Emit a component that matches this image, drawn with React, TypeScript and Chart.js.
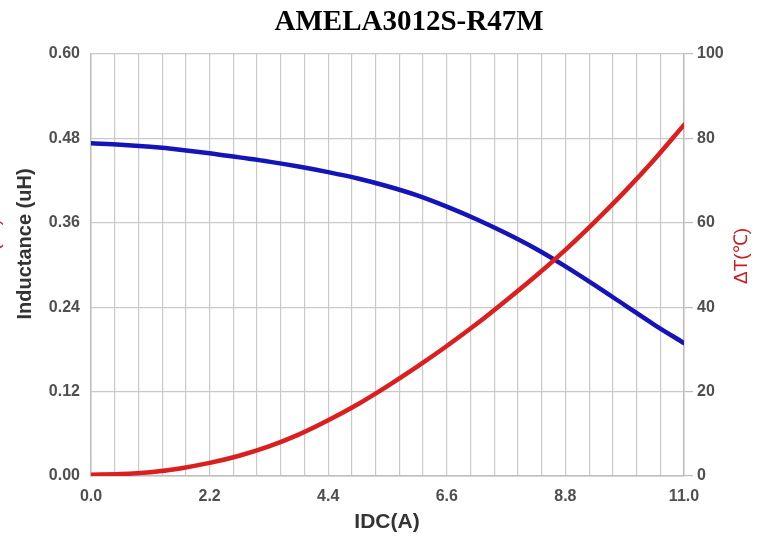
import React, { useEffect, useRef } from "react";
import { Chart, registerables } from "chart.js";

Chart.register(...registerables);

const TITLE = "AMELA3012S-R47M";
const X_TITLE = "IDC(A)";
const Y_LEFT_TITLE = "Inductance (uH)";
const Y_RIGHT_TITLE = "ΔT(℃)";

const currentA = [0, 0.55, 1.1, 1.65, 2.2, 2.75, 3.3, 3.85, 4.4, 4.95, 5.5, 6.05, 6.6, 7.15, 7.7, 8.25, 8.8, 9.35, 9.9, 10.45, 11];
const inductanceUH = [0.473, 0.471, 0.468, 0.464, 0.459, 0.453, 0.447, 0.44, 0.432, 0.423, 0.412, 0.399, 0.383, 0.365, 0.345, 0.323, 0.298, 0.271, 0.243, 0.215, 0.189];
const deltaT = [0.3, 0.45, 0.9, 1.8, 3.1, 4.8, 7.0, 9.8, 13.2, 17.0, 21.3, 25.9, 30.8, 36.0, 41.6, 47.4, 53.6, 60.3, 67.4, 75.0, 83.2];

const xTickCount = 26;
const xTickStep = 0.44;
const leftTicks = [0, 0.12, 0.24, 0.36, 0.48, 0.6];
const rightTicks = [0, 20, 40, 60, 80, 100];

const GRID = "#c9c9c9";
const TICK_COLOR = "#4f4f4f";
const BLUE = "#1414b8";
const RED = "#db1e1e";

const titlesPlugin = {
  id: "customTitles",
  afterDraw(chart: any) {
    const ctx = chart.ctx;
    ctx.save();
    ctx.fillStyle = "#000";
    ctx.font = "bold 29px 'Liberation Serif'";
    ctx.textAlign = "center";
    ctx.textBaseline = "middle";
    ctx.fillText(TITLE, 409, 23);

    ctx.fillStyle = "#333";
    ctx.font = "bold 21px 'Liberation Sans'";
    ctx.fillText(X_TITLE, 387, 522);

    ctx.save();
    ctx.translate(25, 244);
    ctx.rotate(-Math.PI / 2);
    ctx.fillStyle = "#333";
    ctx.font = "bold 20px 'Liberation Sans'";
    ctx.fillText(Y_LEFT_TITLE, 0, 0);
    ctx.restore();

    ctx.save();
    ctx.translate(742, 256);
    ctx.rotate(-Math.PI / 2);
    ctx.fillStyle = "#c42222";
    ctx.font = "19px 'Liberation Sans'";
    ctx.fillText(Y_RIGHT_TITLE, 0, 0);
    ctx.restore();

    ctx.save();
    ctx.translate(-6, 247);
    ctx.rotate(-Math.PI / 2);
    ctx.fillStyle = "#c42222";
    ctx.font = "19px 'Liberation Sans'";
    ctx.fillText(Y_RIGHT_TITLE, 0, 0);
    ctx.restore();

    ctx.restore();
  },
};

export default function App() {
  const canvasRef = useRef<HTMLCanvasElement | null>(null);

  useEffect(() => {
    if (!canvasRef.current) return;
    const chart = new Chart(canvasRef.current, {
      type: "line",
      data: {
        datasets: [
          {
            label: "ΔT",
            data: currentA.map((x, i) => ({ x, y: deltaT[i] })),
            borderColor: RED,
            borderWidth: 4.5,
            pointRadius: 0,
            cubicInterpolationMode: "monotone",
            borderCapStyle: "round",
            yAxisID: "y1",
          },
          {
            label: "Inductance",
            data: currentA.map((x, i) => ({ x, y: inductanceUH[i] })),
            borderColor: BLUE,
            borderWidth: 4.5,
            pointRadius: 0,
            cubicInterpolationMode: "monotone",
            borderCapStyle: "round",
            yAxisID: "y",
          },
        ],
      },
      options: {
        animation: false,
        responsive: true,
        maintainAspectRatio: false,
        layout: { padding: { top: 54, left: 0, right: 0, bottom: 0 } },
        plugins: {
          legend: { display: false },
          title: { display: false },
          tooltip: { enabled: false },
        },
        scales: {
          x: {
            type: "linear",
            min: 0,
            max: 11,
            afterBuildTicks: (scale: any) => {
              scale.ticks = Array.from({ length: xTickCount }, (_, i) => ({ value: +(i * xTickStep).toFixed(2) }));
            },
            afterFit: (scale: any) => {
              scale.height = 62;
            },
            ticks: {
              autoSkip: false,
              maxRotation: 0,
              padding: 11,
              color: TICK_COLOR,
              font: { family: "'Liberation Sans'", size: 16, weight: "bold" },
              callback: (v: any, i: number) => (i % 5 === 0 ? Number(v).toFixed(1) : ""),
            },
            grid: { color: GRID, lineWidth: 1.2, drawTicks: false },
            border: { color: "#bdbdbd", width: 1.5 },
          },
          y: {
            position: "left",
            min: 0,
            max: 0.6,
            afterBuildTicks: (scale: any) => {
              scale.ticks = leftTicks.map((value) => ({ value }));
            },
            afterFit: (scale: any) => {
              scale.width = 91;
            },
            ticks: {
              padding: 11,
              color: TICK_COLOR,
              font: { family: "'Liberation Sans'", size: 16, weight: "bold" },
              callback: (v: any) => Number(v).toFixed(2),
            },
            grid: { color: GRID, lineWidth: 1.2, drawTicks: false },
            border: { color: "#bdbdbd", width: 1.5 },
          },
          y1: {
            position: "right",
            min: 0,
            max: 100,
            afterBuildTicks: (scale: any) => {
              scale.ticks = rightTicks.map((value) => ({ value }));
            },
            afterFit: (scale: any) => {
              scale.width = 85;
            },
            ticks: {
              padding: 4,
              color: TICK_COLOR,
              font: { family: "'Liberation Sans'", size: 16, weight: "bold" },
              callback: (v: any) => String(v),
            },
            grid: { drawOnChartArea: false, color: "#bdbdbd", tickLength: 9, lineWidth: 1.2 },
            border: { color: "#bdbdbd", width: 1.5 },
          },
        },
      } as any,
      plugins: [titlesPlugin],
    });
    return () => chart.destroy();
  }, []);

  return (
    <div style={{ position: "fixed", left: 0, top: 0, width: 769, height: 538, background: "#fff" }}>
      <canvas ref={canvasRef} />
    </div>
  );
}
